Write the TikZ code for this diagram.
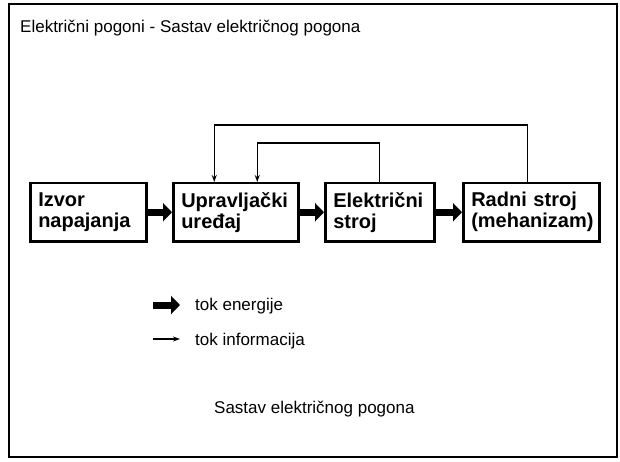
\documentclass[tikz,border=0pt]{standalone}
\usepackage{fontspec}
\setmainfont{Liberation Sans}
\usetikzlibrary{arrows.meta,calc}

\tikzset{
  block/.style={draw, line width=2.5pt, inner xsep=8pt, inner ysep=0pt,
    minimum height=58pt, align=left, anchor=north west,
    font=\fontsize{20}{21}\selectfont\bfseries},
  energy/.style={line width=7pt, -{Triangle[length=9pt,width=18pt]}},
  info/.style={line width=1.3pt, -{Stealth[length=7pt,width=5pt]}},
  label/.style={anchor=base west, inner sep=0pt, font=\fontsize{17}{20}\selectfont},
}

\begin{document}
\begin{tikzpicture}[x=1pt, y=-1pt]
  \useasboundingbox (0,0) rectangle (620,462);
  % outer frame
  \draw[line width=2.5pt] (9,4) rectangle (617,457);

  \node[label] (title) at (20,33) {Električni pogoni - Sastav električnog pogona};

  % blocks of the drive
  \node[block, text width=100pt] (izvor) at (29,182) {Izvor\\napajanja};
  \node[block, text width=109pt] (upr)   at (172,182) {Upravljački\\uređaj};
  \node[block, text width=93pt]  (elek)  at (324,182) {Električni\\stroj};
  \node[block, text width=120pt] (radni) at (462,182) {Radni stroj\\(mehanizam)};

  % energy flow
  \draw[energy] (izvor.east) -- (upr.west);
  \draw[energy] (upr.east) -- (elek.west);
  \draw[energy] (elek.east) -- (radni.west);

  % information feedback
  \draw[info] ([xshift=-4pt]radni.north) -- ++(0,-57) -| ([xshift=-21.5pt]upr.north);
  \draw[info] (elek.north) -- ++(0,-39) -| ([xshift=21.5pt]upr.north);

  % legend
  \coordinate (e0) at (153,305);
  \coordinate (e1) at (180,305);
  \coordinate (i0) at (153,339);
  \coordinate (i1) at (180,339);
  \draw[energy] (e0) -- (e1);
  \draw[info] (i0) -- (i1);
  \node[label] (le) at (195,310) {tok energije};
  \node[label] (li) at (195,345) {tok informacija};

  \node[label] (cap) at (214,413) {Sastav električnog pogona};
\end{tikzpicture}
\end{document}
